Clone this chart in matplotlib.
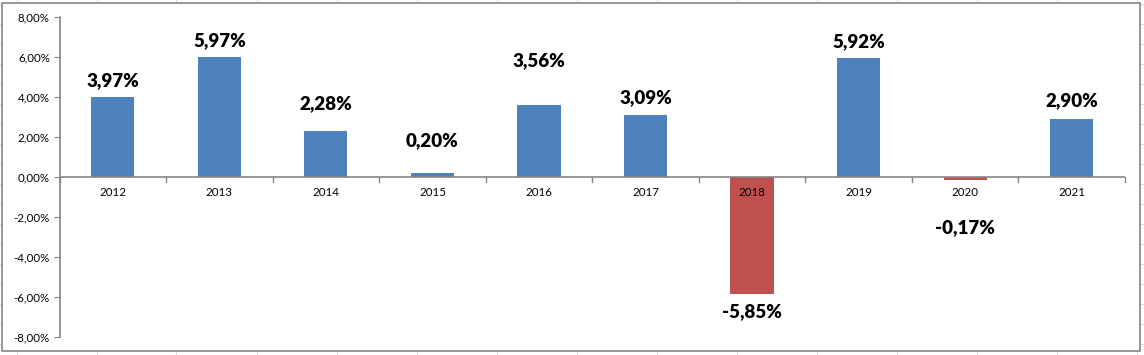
import matplotlib.pyplot as plt
from matplotlib.lines import Line2D
from matplotlib.patches import Rectangle
import numpy as np

# data
years = ['2012', '2013', '2014', '2015', '2016', '2017', '2018', '2019', '2020', '2021']
growth = [3.97, 5.97, 2.28, 0.20, 3.56, 3.09, -5.85, 5.92, -0.17, 2.90]
# label shift from the bar end, in pixels (labels were moved by hand in the original)
label_shift = [17, 17, 28, 32, 45, 17, -18, 17, -47, 18]

plt.rcParams['font.family'] = ['Lato', 'DejaVu Sans']

W, H = 1144, 355
fig = plt.figure(figsize=(W / 100, H / 100), dpi=100)
fig.patch.set_facecolor('white')

# faint spreadsheet grid behind the chart
grid_col = '#dadcdd'
for gx in np.arange(16.5, W, 80):
    fig.add_artist(Line2D([gx / W, gx / W], [0, 1], color=grid_col, lw=0.8, zorder=0))
for gy in np.arange(4, H, 20):
    fig.add_artist(Line2D([0, 1], [1 - gy / H, 1 - gy / H], color=grid_col, lw=0.8, zorder=0))

# chart area
fig.add_artist(Rectangle((2 / W, 1 - 351 / H), 1138 / W, 348 / H, facecolor='white',
                         edgecolor='#868686', lw=1.2, zorder=1))

left, right, top, bottom = 59.5, 1125, 16.7, 336.7
ax = fig.add_axes([left / W, 1 - bottom / H, (right - left) / W, (bottom - top) / H])
ax.set_zorder(2)
ax.patch.set_alpha(0)

x = np.arange(len(years))
colors = ['#4f81bd' if v >= 0 else '#c0504d' for v in growth]
ax.bar(x, growth, width=0.405, color=colors, zorder=2)

for xi, v, s in zip(x, growth, label_shift):
    ax.annotate(f'{v:.2f}%'.replace('.', ','), (xi, v), xytext=(0, s), textcoords='offset pixels',
                ha='center', va='center', fontsize=13.5, fontweight='heavy', color='black')

ax.set_xlim(-0.5, len(years) - 0.5)
ax.set_ylim(-8, 8)
ax.set_yticks(np.arange(-8, 9, 2))
ax.set_yticklabels([f'{t:.2f}%'.replace('.', ',') for t in np.arange(-8, 9, 2)])
ax.tick_params(axis='y', labelsize=8.3, length=4, color='#868686', pad=3)

for sp in ['top', 'right', 'bottom']:
    ax.spines[sp].set_visible(False)
ax.spines['left'].set_color('#868686')
ax.spines['left'].set_linewidth(1.2)

# category axis sits on the zero line
ax.axhline(0, color='#868686', lw=1.2, zorder=3)
ax.set_xticks([])
for b in np.arange(-0.5, len(years), 1):
    ax.plot([b, b], [0, -0.25], color='#868686', lw=1, zorder=3, clip_on=False)
for xi, yr in zip(x, years):
    ax.annotate(yr, (xi, 0), xytext=(0, -16), textcoords='offset pixels',
                ha='center', va='center', fontsize=8.3)

fig.savefig('out.png', dpi=100)
